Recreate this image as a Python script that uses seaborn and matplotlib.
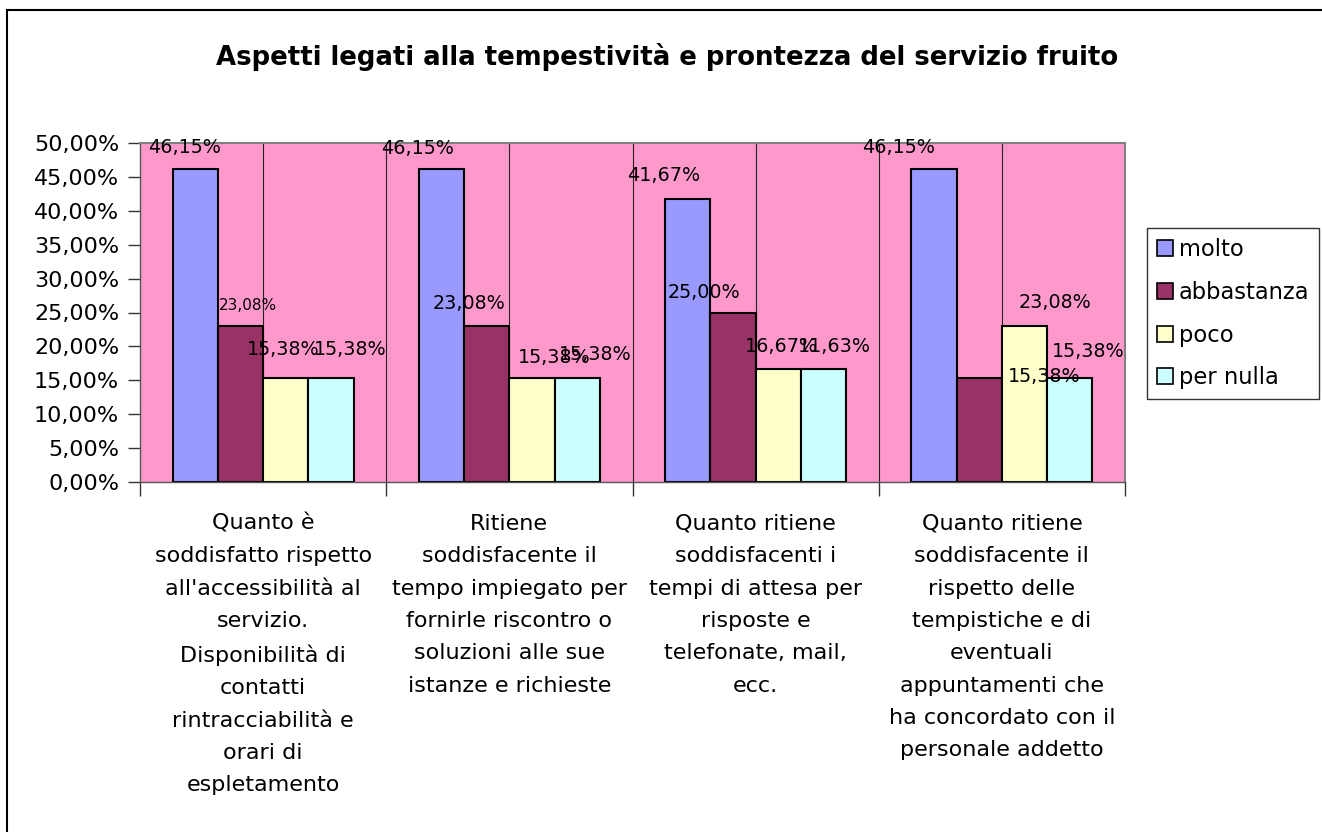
import pandas as pd
import numpy as np
import matplotlib
matplotlib.use('Agg')
import matplotlib.pyplot as plt
from matplotlib.patches import Rectangle
from matplotlib.ticker import FuncFormatter, MultipleLocator
import seaborn as sns

# --- data ---
categorie = [
    "Quanto è\nsoddisfatto rispetto\nall'accessibilità al\nservizio.\nDisponibilità di\ncontatti\nrintracciabilità e\norari di\nespletamento",
    "Ritiene\nsoddisfacente il\ntempo impiegato per\nfornirle riscontro o\nsoluzioni alle sue\nistanze e richieste",
    "Quanto ritiene\nsoddisfacenti i\ntempi di attesa per\nrisposte e\ntelefonate, mail,\necc.",
    "Quanto ritiene\nsoddisfacente il\nrispetto delle\ntempistiche e di\neventuali\nappuntamenti che\nha concordato con il\npersonale addetto",
]
serie = ['molto', 'abbastanza', 'poco', 'per nulla']

molto = [46.15, 46.15, 41.67, 46.15]
abbastanza = [23.08, 23.08, 25.00, 15.38]
poco = [15.38, 15.38, 16.67, 23.08]
per_nulla = [15.38, 15.38, 16.67, 15.38]

# labels as printed on the chart (one differs from its bar)
etichette_molto = ['46,15%', '46,15%', '41,67%', '46,15%']
etichette_abbastanza = ['23,08%', '23,08%', '25,00%', '15,38%']
etichette_poco = ['15,38%', '15,38%', '16,67%', '23,08%']
etichette_per_nulla = ['15,38%', '15,38%', '11,63%', '15,38%']

titolo = 'Aspetti legati alla tempestività e prontezza del servizio fruito'

# --- style ---
colori = ['#9999FF', '#993366', '#FFFFCC', '#CCFFFF']
sfondo = '#FF99CC'

# label offsets from bar top-center, in pixels (dx, dy)
offset_etichette = [
    [(-11, 22), (-24, 21), (-24, 24), (-35, 22)],
    [(7, 20), (-18, 22), (-29, 20), (65, 1)],
    [(-3, 28), (22, 20), (3, 22), (30, 23)],
    [(19, 28), (18, 23), (11, 22), (18, 26)],
]

df = pd.DataFrame({
    'categoria': np.tile(categorie, len(serie)),
    'serie': np.repeat(serie, len(categorie)),
    'valore': molto + abbastanza + poco + per_nulla,
})
etichette = [etichette_molto, etichette_abbastanza, etichette_poco, etichette_per_nulla]

sns.set_theme(style='white')
plt.rcParams['font.family'] = ['DejaVu Sans']
plt.rcParams['text.color'] = 'black'
plt.rcParams['xtick.color'] = 'black'
plt.rcParams['ytick.color'] = 'black'

fig = plt.figure(figsize=(13.22, 8.32), dpi=100)
fig.patch.set_facecolor('white')
ax = fig.add_axes([140 / 1322, 1 - 482 / 832, 985 / 1322, 339 / 832])
ax.set_facecolor(sfondo)

sns.barplot(data=df, x='categoria', y='valore', hue='serie', hue_order=serie,
            order=categorie, palette=colori, saturation=1, width=0.736,
            edgecolor='black', linewidth=1.5, ax=ax, zorder=3)

# vertical gridlines at category centres and boundaries
for xv in np.arange(0, len(categorie) - 0.5, 0.5):
    ax.axvline(xv, color='#222222', lw=0.8, zorder=1)

ax.set_xlim(-0.5, len(categorie) - 0.5)
ax.set_ylim(0, 50)
ax.yaxis.set_major_locator(MultipleLocator(5))
ax.yaxis.set_major_formatter(FuncFormatter(lambda v, p: f"{v:.2f}%".replace('.', ',')))
ax.tick_params(axis='y', which='major', length=9, width=1, color='#333333',
               labelsize=16, pad=6, left=True, labelcolor='black')
ax.tick_params(axis='x', which='major', length=0, labelsize=16, pad=23,
               labelcolor='black')
ax.set_xticks(np.arange(-0.5, len(categorie)), minor=True)
ax.tick_params(axis='x', which='minor', length=10, width=1, color='#333333', bottom=True)
for lab in ax.get_xticklabels():
    lab.set_linespacing(1.77)
    lab.set_va('top')
ax.set_xlabel('')
ax.set_ylabel('')

for side in ['top', 'right']:
    ax.spines[side].set_color('#808080')
    ax.spines[side].set_linewidth(1.5)
for side in ['left', 'bottom']:
    ax.spines[side].set_color('#555555')
    ax.spines[side].set_linewidth(1)
ax.spines['bottom'].set_zorder(5)

# data labels
for i, cont in enumerate(ax.containers):
    for j, bar in enumerate(cont):
        cx = bar.get_x() + bar.get_width() / 2
        top = bar.get_height()
        dx, dy = offset_etichette[i][j]
        size = 11 if (i == 1 and j == 0) else 13.8
        ax.annotate(etichette[i][j], (cx, top), xytext=(dx, dy),
                    textcoords='offset pixels', ha='center', va='center',
                    fontsize=size, color='black', zorder=6, annotation_clip=False)

# legend
handles, labels = ax.get_legend_handles_labels()
leg = ax.legend(handles, labels, loc='upper left',
                bbox_to_anchor=(1147 / 1322, 1 - 228 / 832),
                bbox_transform=fig.transFigure, borderaxespad=0,
                fontsize=16.3, frameon=True, fancybox=False, shadow=False,
                handlelength=0.7, handleheight=0.7, handletextpad=0.25,
                labelspacing=0.87, borderpad=0.45, labelcolor='black')
leg.get_frame().set_edgecolor('black')
leg.get_frame().set_linewidth(1)
leg.get_frame().set_facecolor('white')
for h in leg.legend_handles:
    h.set_edgecolor('black')
    h.set_linewidth(1.2)

fig.text(667 / 1322, 1 - 57 / 832, titolo, ha='center', va='center',
         fontsize=18.7, fontweight='bold', color='black')

# chart border (only left and top visible in the original crop)
fig.add_artist(Rectangle((6.5 / 1322, -0.1), 2, 1 - 10 / 832 + 0.1,
                         transform=fig.transFigure, fill=False,
                         edgecolor='black', linewidth=1.5))

fig.savefig('out.png', dpi=100)
